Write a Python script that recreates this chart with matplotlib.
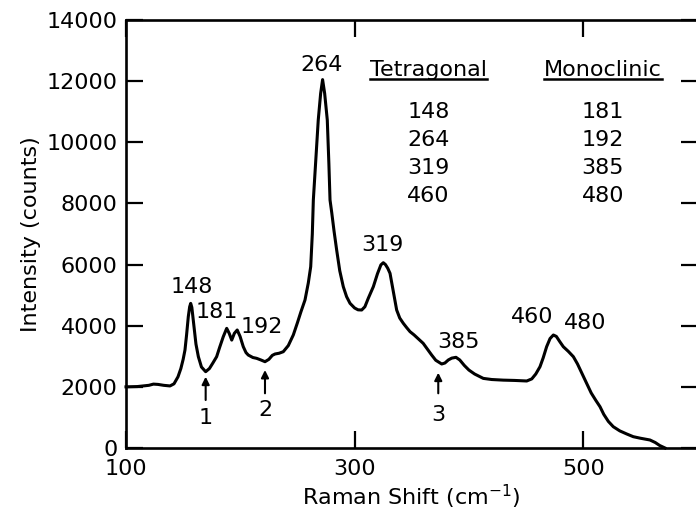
import matplotlib
matplotlib.use("Agg")
import matplotlib.pyplot as plt
from matplotlib.lines import Line2D

plt.rcParams['font.family'] = ['DejaVu Sans']

# ---- data ----
shift = [100, 110, 120, 124, 128, 133, 138.5, 142, 145.5, 148, 150, 151.6, 153, 154.5, 155.7, 156.6,
         157.6, 159.5, 161.2, 163.3, 166, 169.7, 173, 176, 179.3, 182, 185.1, 188.1, 190.3, 192.5,
         194.8, 197.3, 199.8, 202.6, 205, 207, 211, 214.3, 218, 221.6, 225, 228, 230.4, 234, 237.6,
         242, 246.4, 250, 253, 256.6, 259.5, 261.6, 263, 263.9, 266, 268.2, 270.3, 272, 273.8, 276.1,
         277.5, 278.5, 280, 282, 284.3, 287, 290.1, 293, 296, 300, 303, 306.2, 309, 312, 316.4, 320,
         323, 325.1, 327, 329, 331, 334, 336.8, 339.5, 342.6, 345.5, 348.5, 352, 356, 360, 364, 367.4,
         371, 376.2, 379, 382, 385, 388.7, 392, 396, 400, 405, 409.7, 412.6, 420, 430, 440, 450.6,
         455, 458.5, 462.2, 465, 468, 471, 473.9, 476.5, 479.5, 482.6, 487, 491.4, 495, 499, 503,
         507, 511, 514.7, 518, 522, 526.3, 532, 538, 543.8, 550, 558.4, 563, 567, 571.6]
intensity = [2000, 2010, 2050, 2090, 2080, 2050, 2030, 2100, 2330, 2600, 2900, 3205, 3700, 4295, 4620, 4730,
             4600, 3968, 3400, 2987, 2650, 2496, 2600, 2780, 2987, 3300, 3641, 3914, 3750, 3530,
             3750, 3860, 3650, 3314, 3120, 3040, 2960, 2933, 2880, 2823, 2900, 3030, 3075, 3100, 3150,
             3350, 3700, 4100, 4450, 4841, 5400, 5931, 7000, 8112, 9400, 10730, 11600, 12050, 11600, 10730,
             9300, 8112, 7700, 7100, 6477, 5800, 5277, 4950, 4732, 4580, 4520, 4514, 4620, 4900, 5277, 5700,
             5990, 6061, 6000, 5880, 5713, 5100, 4514, 4250, 4079, 3940, 3805, 3700, 3560, 3424, 3220, 3042,
             2870, 2748, 2780, 2880, 2940, 2966, 2880, 2700, 2550, 2420, 2332, 2277, 2240, 2220, 2210, 2192,
             2260, 2420, 2659, 2950, 3313, 3580, 3696, 3650, 3480, 3313, 3160, 2986, 2750, 2430, 2116,
             1800, 1560, 1351, 1100, 870, 697, 560, 460, 370, 320, 262, 180, 80, 0]

peak_labels = ['148', '181', '192', '264', '319', '385', '460', '480']
peak_label_x = [157.5, 179.3, 218.7, 271.2, 324.5, 390.5, 455, 501.6]
peak_label_y = [5276, 4459, 3968, 12528, 6640, 3477, 4295, 4090]

arrow_labels = ['1', '2', '3']
arrow_x = [169.7, 221.6, 373.2]
arrow_tip = [2332, 2551, 2463]
arrow_tail = [1570, 1789, 1789]
arrow_label_y = [981, 1243, 1079]

table_headers = ['Tetragonal', 'Monoclinic']
tetragonal = ['148', '264', '319', '460']
monoclinic = ['181', '192', '385', '480']
table_col_x = [364.5, 517.3]
table_header_y = 12364
table_row_y = [10990, 10075, 9159, 8243]

x_ticks = [100, 300, 500]
y_ticks = [0, 2000, 4000, 6000, 8000, 10000, 12000, 14000]

# ---- figure ----
fig = plt.figure(figsize=(6.96, 5.18), dpi=100)
ax = fig.add_axes([126 / 696, 70 / 518, 571.5 / 696, 428 / 518])

ax.plot(shift, intensity, color='black', lw=2.2, solid_joinstyle='round', clip_on=False)

ax.set_xlim(100, 600)
ax.set_ylim(0, 14000)
ax.set_xticks(x_ticks)
ax.set_yticks(y_ticks)
ax.tick_params(direction='in', length=12, width=1.6, top=True, right=True,
               labelsize=16, colors='black')
ax.tick_params(axis='x', pad=8)
ax.tick_params(axis='y', pad=6)
for s in ax.spines.values():
    s.set_linewidth(1.9)

ax.set_xlabel('Raman Shift (cm$^{-1}$)', fontsize=16, labelpad=3)
ax.set_ylabel('Intensity (counts)', fontsize=16, labelpad=4)

fs = 16
for t, x, y in zip(peak_labels, peak_label_x, peak_label_y):
    ax.text(x, y, t, ha='center', va='center', fontsize=fs)

for t, x, y0, y1, yl in zip(arrow_labels, arrow_x, arrow_tip, arrow_tail, arrow_label_y):
    ax.annotate('', xy=(x, y0), xytext=(x, y1),
                arrowprops=dict(arrowstyle='-|>', lw=1.5, color='black',
                                mutation_scale=11, shrinkA=0, shrinkB=0))
    ax.text(x, yl, t, ha='center', va='center', fontsize=fs)

header_texts = []
for h, cx in zip(table_headers, table_col_x):
    header_texts.append(ax.text(cx, table_header_y, h, ha='center', va='center', fontsize=fs))
for vals, cx in zip([tetragonal, monoclinic], table_col_x):
    for v, y in zip(vals, table_row_y):
        ax.text(cx, y, v, ha='center', va='center', fontsize=fs)

# underline the table headers
fig.canvas.draw()
inv = fig.transFigure.inverted()
for t in header_texts:
    bb = t.get_window_extent()
    (x0, y0), (x1, _) = inv.transform([(bb.x0, bb.y0 + 1), (bb.x1, bb.y0 + 1)])
    fig.add_artist(Line2D([x0, x1], [y0, y0], color='black', lw=1.8))

fig.savefig('out.png', dpi=100)
